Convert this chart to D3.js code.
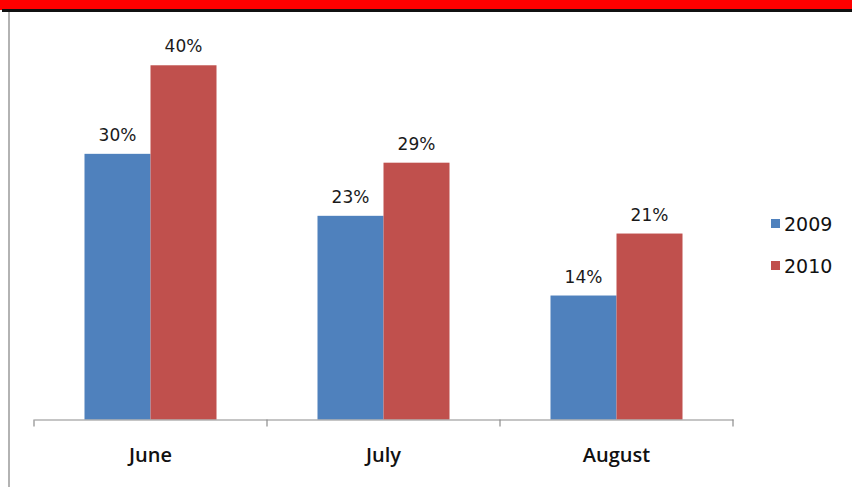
<!DOCTYPE html>
<html>
<head>
<meta charset="utf-8">
<script src="https://cdn.jsdelivr.net/npm/d3@7"></script>
<style>
  html, body { margin: 0; padding: 0; background: #fff; }
  svg { display: block; }
</style>
</head>
<body>
<svg id="chart" width="852" height="487"></svg>
<script>
// Monthly share, per year
const months = ["June", "July", "August"];
const years = ["2009", "2010"];
const values2009 = [30, 23, 14];
const values2010 = [40, 29, 21];
const colors = ["#4F81BD", "#C0504D"];

const svg = d3.select("#chart");
const W = 852, H = 487;

// header strip
svg.append("rect").attr("x", 0).attr("y", 0).attr("width", W).attr("height", 10).attr("fill", "#FF0000");
svg.append("rect").attr("x", 2).attr("y", 9).attr("width", W - 2).attr("height", 3).attr("fill", "#111");

// left rule
svg.append("rect").attr("x", 8).attr("y", 12).attr("width", 2).attr("height", H - 12).attr("fill", "#b3b3b3");

const plot = { left: 34, right: 733, top: 21, bottom: 419.5 };

const x0 = d3.scaleBand().domain(months).range([plot.left, plot.right]).paddingInner(0).paddingOuter(0);
const x1 = d3.scaleBand().domain(years).range([0, x0.bandwidth()]).paddingInner(0).paddingOuter(0.765);
const y = d3.scaleLinear().domain([0, 45]).range([plot.bottom, plot.top]);

const rows = months.map((m, i) => ({ month: m, vals: [values2009[i], values2010[i]] }));

const groups = svg.append("g").selectAll("g").data(rows).join("g")
  .attr("transform", d => `translate(${x0(d.month)},0)`);

groups.selectAll("rect").data(d => d.vals.map((v, j) => ({ year: years[j], v, j })))
  .join("rect")
  .attr("x", d => x1(d.year))
  .attr("y", d => y(d.v))
  .attr("width", x1.bandwidth())
  .attr("height", d => y(0) - y(d.v))
  .attr("fill", d => colors[d.j]);

groups.selectAll("text.val").data(d => d.vals.map((v, j) => ({ year: years[j], v, j })))
  .join("text")
  .attr("class", "val")
  .attr("x", d => x1(d.year) + x1.bandwidth() / 2)
  .attr("y", d => y(d.v) - 13)
  .attr("text-anchor", "middle")
  .attr("font-family", "DejaVu Sans, Verdana, sans-serif")
  .attr("font-size", 17)
  .attr("fill", "#1a1a1a")
  .text(d => d.v + "%");

// category axis
const axis = d3.axisBottom(x0).tickSize(0).tickFormat("");
const axG = svg.append("g").attr("transform", `translate(0,${plot.bottom})`).call(axis);
axG.select(".domain").attr("stroke", "#8c8c8c").attr("stroke-width", 1.2);
const edges = [plot.left, ...months.map(m => x0(m) + x0.bandwidth())];
axG.selectAll("line.edge").data(edges).join("line")
  .attr("class", "edge")
  .attr("x1", d => d).attr("x2", d => d)
  .attr("y1", 0).attr("y2", 7)
  .attr("stroke", "#8c8c8c").attr("stroke-width", 1.2);

svg.append("g").selectAll("text").data(months).join("text")
  .attr("x", d => x0(d) + x0.bandwidth() / 2)
  .attr("y", 462)
  .attr("text-anchor", "middle")
  .attr("font-family", "Open Sans, sans-serif")
  .attr("font-weight", 600)
  .attr("font-size", 20)
  .attr("fill", "#111")
  .text(d => d);

// legend
const legend = svg.append("g").selectAll("g").data(years).join("g")
  .attr("transform", (d, i) => `translate(771,${219 + i * 42})`);
legend.append("rect").attr("width", 9).attr("height", 9).attr("fill", (d, i) => colors[i]);
legend.append("text")
  .attr("x", 13).attr("y", 12)
  .attr("font-family", "DejaVu Sans, Verdana, sans-serif")
  .attr("font-size", 19)
  .attr("fill", "#111")
  .text(d => d);
</script>
</body>
</html>
